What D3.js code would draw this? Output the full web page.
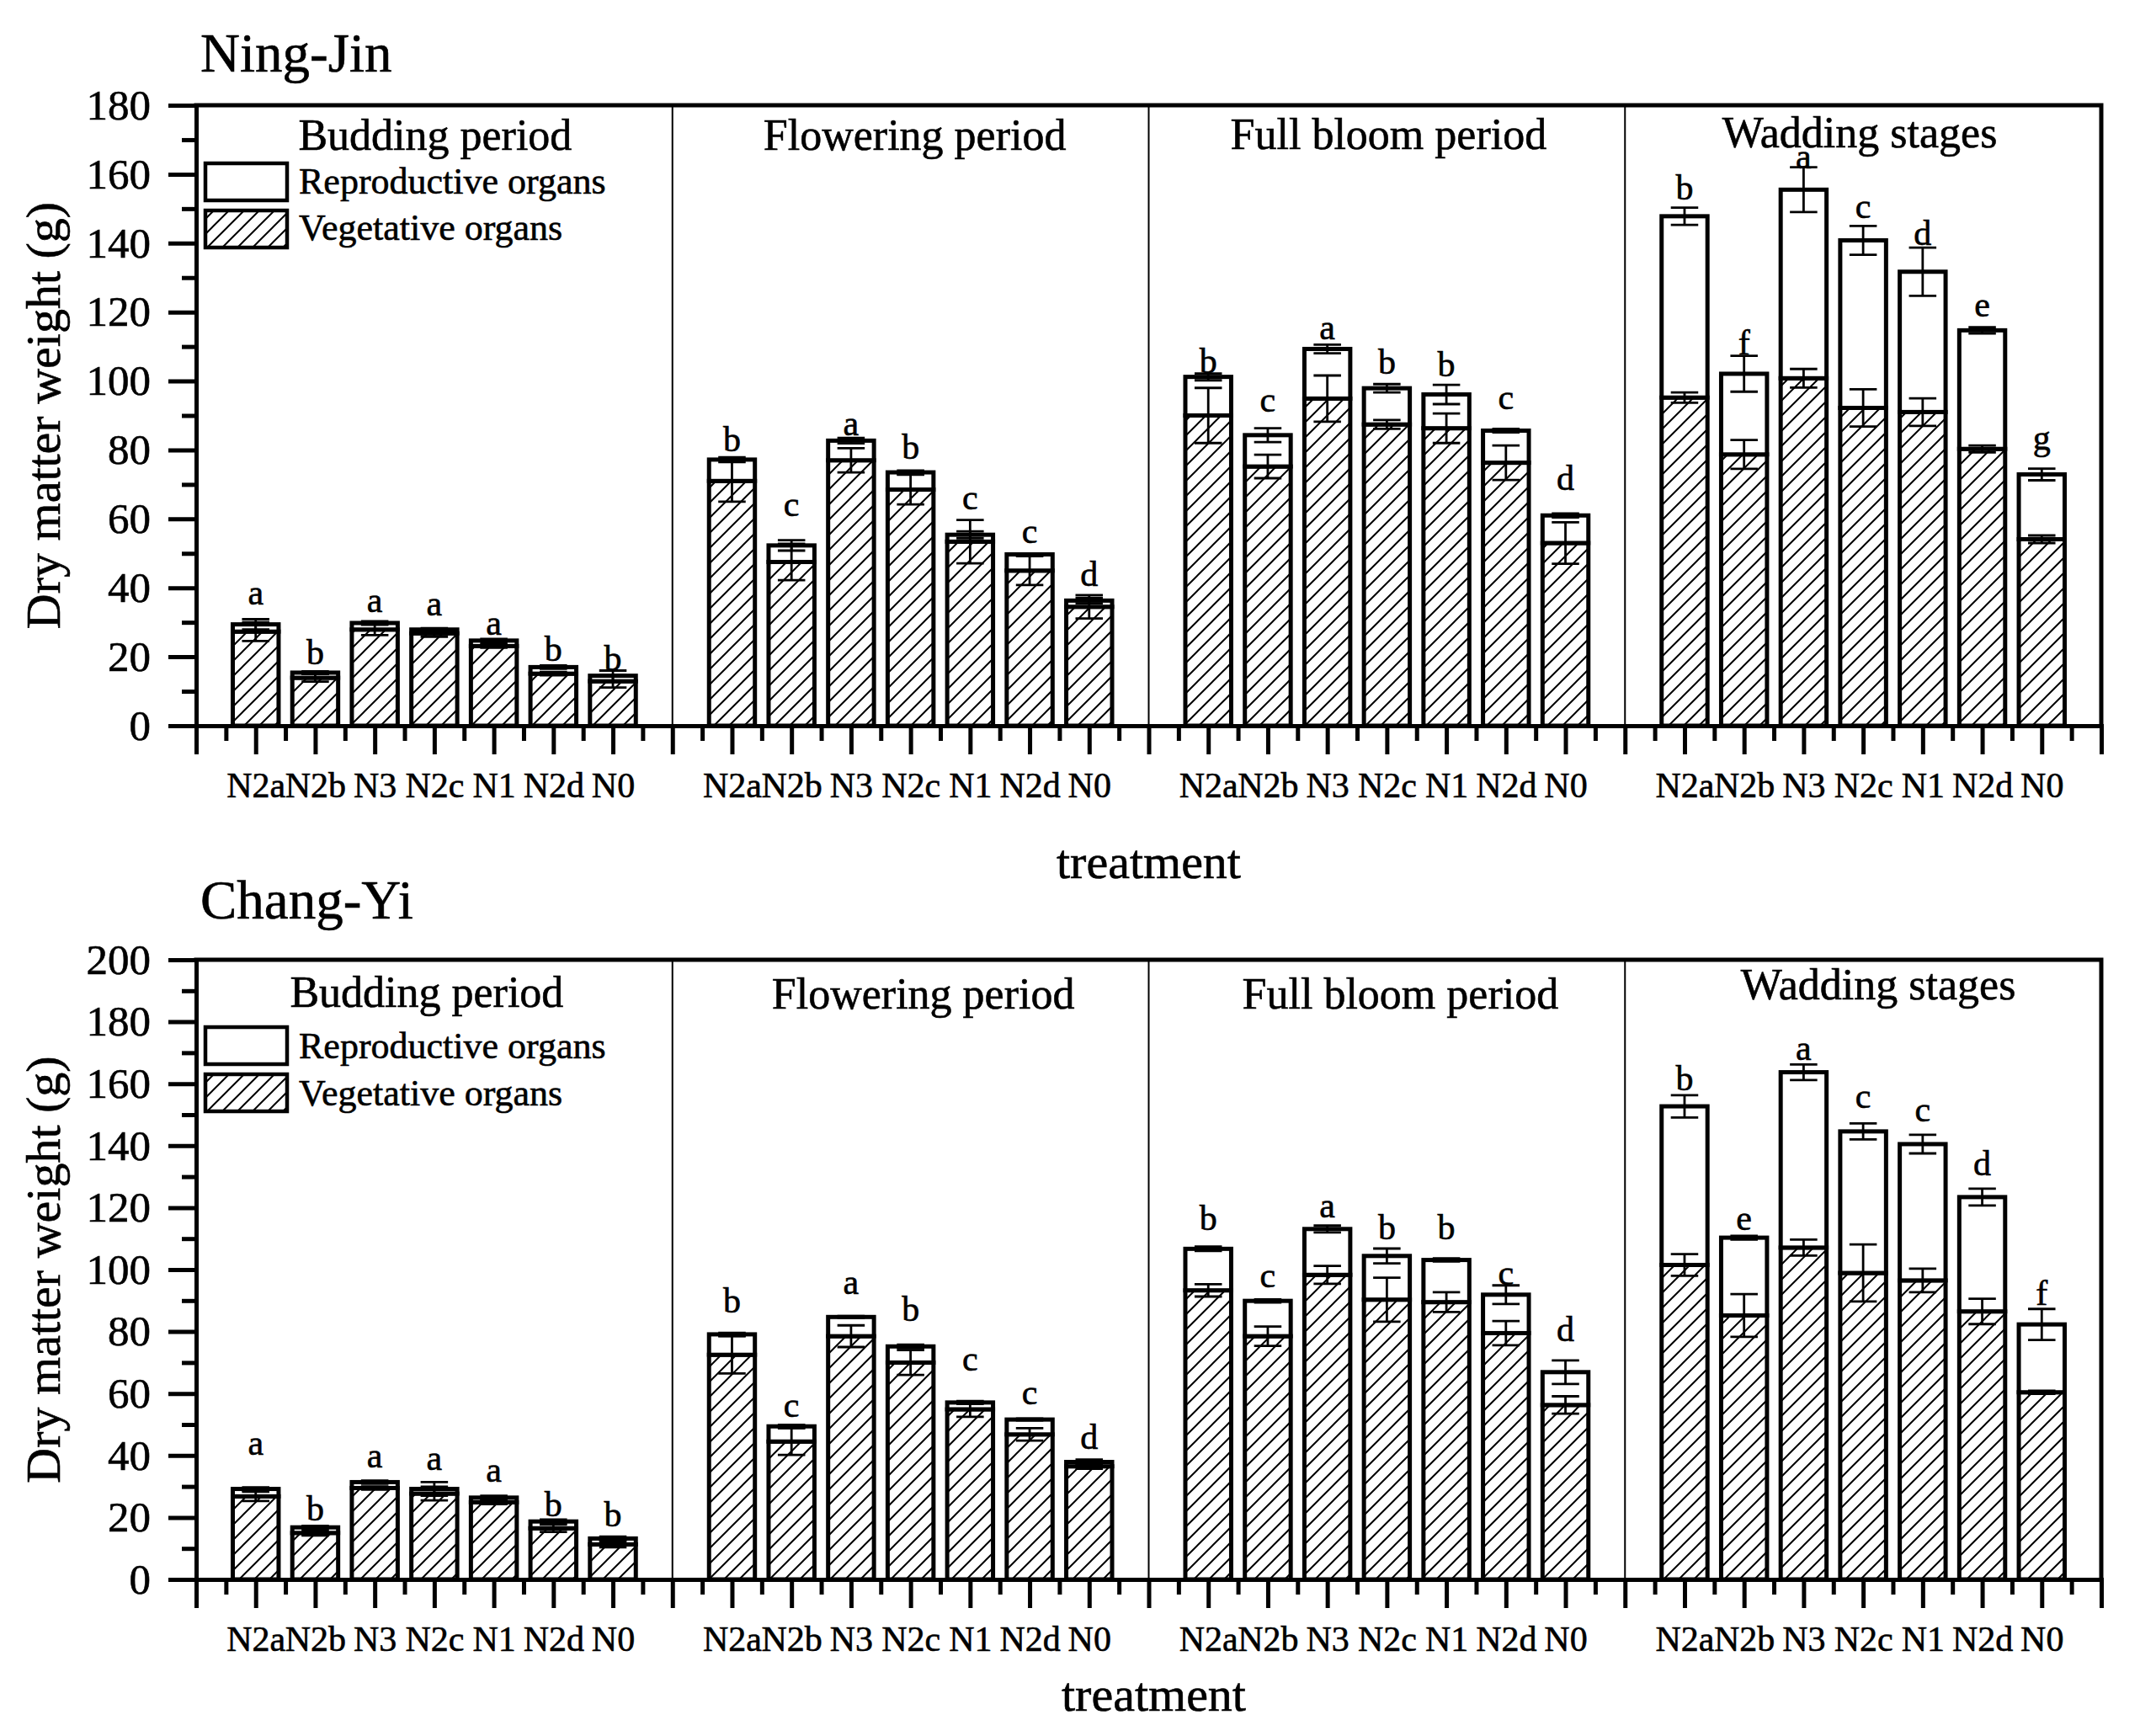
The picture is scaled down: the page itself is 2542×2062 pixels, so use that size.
<!DOCTYPE html>
<html>
<head>
<meta charset="utf-8">
<script src="https://cdn.jsdelivr.net/npm/d3@7/dist/d3.min.js"></script>
<style>
  html, body { margin: 0; padding: 0; background: #fff; }
  svg { display: block; }
  text { font-family: "Liberation Serif", "Times New Roman", serif; fill: #000; stroke: #000; stroke-width: 0.6px; }
</style>
</head>
<body>
<svg id="chart" width="2542" height="2062"></svg>
<script>
// ---------------- DATA ----------------
const treatments = ["N2a", "N2b", "N3", "N2c", "N1", "N2d", "N0"];
const periods = ["Budding period", "Flowering period", "Full bloom period", "Wadding stages"];
const seriesNames = ["Reproductive organs", "Vegetative organs"];

// Ning-Jin: vegetative organ dry weight (g), per period, per treatment
const njVeg = [
  [27.3, 13.9, 27.9, 26.8, 23.1, 15.1, 12.9],
  [71.0, 47.5, 77.0, 68.5, 53.4, 45.0, 34.5],
  [90.0, 75.2, 94.9, 87.4, 86.3, 76.3, 53.0],
  [95.2, 78.7, 100.8, 92.2, 91.0, 80.3, 54.1]
];
// Ning-Jin: total (vegetative + reproductive) dry weight
const njTotal = [
  [29.4, 15.4, 29.8, 27.9, 24.7, 17.0, 14.5],
  [77.2, 52.3, 82.7, 73.5, 55.4, 49.7, 36.3],
  [101.2, 84.3, 109.3, 97.9, 96.1, 85.6, 61.0],
  [147.8, 102.1, 155.5, 140.8, 131.7, 114.7, 72.9]
];
const njVegErr = [
  [2.7, 1.1, 1.6, 1.0, 0.5, 0.5, 1.8],
  [6.0, 5.3, 3.5, 4.3, 6.3, 4.2, 3.4],
  [8.0, 3.4, 6.7, 1.3, 4.3, 5.0, 6.0],
  [1.5, 4.2, 2.7, 5.4, 4.0, 1.0, 1.1]
];
const njTotErr = [
  [1.5, 0.4, 0.5, 0.4, 0.5, 0.5, 1.5],
  [0.7, 1.5, 0.8, 0.5, 1.0, 0.3, 0.8],
  [1.0, 2.0, 1.25, 1.2, 2.8, 0.5, 0.6],
  [2.5, 5.2, 6.5, 4.2, 7.0, 0.9, 1.7]
];
const njLetters = [
  ["a", "b", "a", "a", "a", "b", "b"],
  ["b", "c", "a", "b", "c", "c", "d"],
  ["b", "c", "a", "b", "b", "c", "d"],
  ["b", "f", "a", "c", "d", "e", "g"]
];
// value level (g) at which each significance letter sits
const njLetterY = [
  [35.2, 17.9, 32.9, 31.9, 26.3, 18.8, 16.0],
  [79.5, 60.7, 84.2, 77.4, 62.8, 53.0, 40.5],
  [102.3, 91.0, 112.2, 102.2, 101.3, 91.8, 68.5],
  [152.6, 107.7, 161.7, 147.2, 139.5, 118.8, 80.1]
];

// Chang-Yi
const cyVeg = [
  [26.8, 15.0, 29.5, 27.7, 24.9, 16.5, 11.3],
  [72.5, 44.5, 78.5, 70.0, 54.9, 46.8, 36.5],
  [93.3, 78.5, 98.3, 90.3, 89.5, 79.5, 56.3],
  [101.5, 85.2, 107.1, 98.9, 96.5, 86.5, 60.4]
];
const cyTotal = [
  [29.2, 16.8, 31.4, 29.2, 26.4, 18.7, 13.2],
  [79.1, 49.4, 84.7, 75.2, 57.1, 51.6, 37.9],
  [106.7, 89.9, 113.1, 104.4, 103.1, 91.9, 66.9],
  [152.7, 110.3, 163.7, 144.6, 140.5, 123.4, 82.3]
];
const cyVegErr = [
  [1.5, 0.8, 0.5, 2.2, 0.6, 1.2, 0.9],
  [6.0, 4.3, 3.5, 4.0, 2.4, 2.0, 0.8],
  [2.0, 3.1, 2.9, 7.1, 3.2, 3.9, 2.8],
  [3.5, 6.9, 2.6, 9.2, 3.8, 4.1, 0.5]
];
const cyTotErr = [
  [0.5, 0.5, 0.5, 2.2, 0.6, 0.6, 0.6],
  [0.5, 0.5, 0.3, 0.6, 0.5, 0.3, 0.8],
  [0.7, 0.5, 1.1, 2.4, 0.5, 3.0, 3.8],
  [3.6, 0.6, 2.5, 2.6, 3.0, 2.7, 5.0]
];
const cyLetters = [
  ["a", "b", "a", "a", "a", "b", "b"],
  ["b", "c", "a", "b", "c", "c", "d"],
  ["b", "c", "a", "b", "b", "c", "d"],
  ["b", "e", "a", "c", "c", "d", "f"]
];
const cyLetterY = [
  [40.2, 19.0, 36.1, 35.2, 31.5, 20.5, 17.2],
  [86.1, 52.5, 92.0, 83.3, 67.3, 56.4, 42.1],
  [112.9, 94.2, 116.8, 109.9, 109.9, 95.1, 77.0],
  [157.8, 112.7, 167.6, 152.2, 147.9, 130.4, 88.5]
];

const yTicksNJ = [0, 20, 40, 60, 80, 100, 120, 140, 160, 180];
const yTicksCY = [0, 20, 40, 60, 80, 100, 120, 140, 160, 180, 200];

// ---------------- DRAWING ----------------
const svg = d3.select("#chart");
svg.append("rect").attr("width", 2542).attr("height", 2062).attr("fill", "#fff");

const defs = svg.append("defs");
const pat = defs.append("pattern")
  .attr("id", "hatch").attr("patternUnits", "userSpaceOnUse")
  .attr("width", 18).attr("height", 18);
pat.append("rect").attr("width", 18).attr("height", 18).attr("fill", "#fff");
pat.append("path")
  .attr("d", "M0,18 L18,0 M-4.5,4.5 L4.5,-4.5 M13.5,22.5 L22.5,13.5")
  .attr("stroke", "#000").attr("stroke-width", 2);

const X0 = 233, X1 = 2496;
const slotsPerPeriod = 8;
const x = d3.scaleLinear().domain([0, periods.length * slotsPerPeriod]).range([X0, X1]);
const barW = x(0.77) - x(0);
const capW = x(0.46) - x(0);

function drawChart(cfg) {
  const g = svg.append("g");
  const y = d3.scaleLinear().domain([0, cfg.yMax]).range([cfg.y0, cfg.y1]);

  const recs = [];
  periods.forEach((p, pi) => {
    treatments.forEach((t, ti) => {
      recs.push({
        pos: pi * slotsPerPeriod + ti + 1,
        veg: cfg.veg[pi][ti], total: cfg.total[pi][ti],
        vegErr: cfg.vegErr[pi][ti], totErr: cfg.totErr[pi][ti],
        letter: cfg.letters[pi][ti], letterY: cfg.letterY[pi][ti]
      });
    });
  });

  // vegetative (hatched)
  g.selectAll(".veg").data(recs).join("rect")
    .attr("x", d => x(d.pos) - barW / 2).attr("width", barW)
    .attr("y", d => y(d.veg)).attr("height", d => y(0) - y(d.veg))
    .attr("fill", "url(#hatch)").attr("stroke", "#000").attr("stroke-width", 5);
  // reproductive (white) stacked
  g.selectAll(".rep").data(recs).join("rect")
    .attr("x", d => x(d.pos) - barW / 2).attr("width", barW)
    .attr("y", d => y(d.total)).attr("height", d => y(d.veg) - y(d.total))
    .attr("fill", "#fff").attr("stroke", "#000").attr("stroke-width", 5);

  // error bars
  const errs = [];
  recs.forEach(d => {
    errs.push({ pos: d.pos, v: d.veg, e: d.vegErr });
    errs.push({ pos: d.pos, v: d.total, e: d.totErr });
  });
  const eg = g.selectAll(".err").data(errs).join("g").attr("class", "err")
    .attr("stroke", "#000").attr("stroke-width", 2.8).attr("fill", "none");
  eg.append("line")
    .attr("x1", d => x(d.pos)).attr("x2", d => x(d.pos))
    .attr("y1", d => y(d.v + d.e)).attr("y2", d => y(d.v - d.e));
  eg.append("line")
    .attr("x1", d => x(d.pos) - capW / 2).attr("x2", d => x(d.pos) + capW / 2)
    .attr("y1", d => y(d.v + d.e)).attr("y2", d => y(d.v + d.e));
  eg.append("line")
    .attr("x1", d => x(d.pos) - capW / 2).attr("x2", d => x(d.pos) + capW / 2)
    .attr("y1", d => y(d.v - d.e)).attr("y2", d => y(d.v - d.e));

  // letters
  g.selectAll(".letter").data(recs).join("text")
    .attr("x", d => x(d.pos)).attr("y", d => y(d.letterY))
    .attr("text-anchor", "middle").attr("font-size", 42)
    .text(d => d.letter);

  // dividers
  for (let k = 1; k < periods.length; k++) {
    g.append("line").attr("x1", x(k * slotsPerPeriod)).attr("x2", x(k * slotsPerPeriod))
      .attr("y1", y(cfg.yMax)).attr("y2", y(0))
      .attr("stroke", "#000").attr("stroke-width", 2);
  }
  // frame top/right
  g.append("path")
    .attr("d", `M${X0},${y(cfg.yMax)}H${X1}V${y(0)}`)
    .attr("fill", "none").attr("stroke", "#000").attr("stroke-width", 5)
    .attr("stroke-linecap", "square");

  // y axis major
  const yAx = g.append("g").attr("transform", `translate(${X0},0)`)
    .call(d3.axisLeft(y).tickValues(cfg.yTicks).tickSize(33).tickPadding(21).tickSizeOuter(0));
  // y minor
  const minorY = d3.range(10, cfg.yMax, 20);
  g.append("g").attr("transform", `translate(${X0},0)`)
    .call(d3.axisLeft(y).tickValues(minorY).tickSize(17).tickFormat("").tickSizeOuter(0))
    .select(".domain").remove();
  // x axis major
  const xMajor = d3.range(0, periods.length * slotsPerPeriod + 1);
  const xAx = g.append("g").attr("transform", `translate(0,${y(0)})`)
    .call(d3.axisBottom(x).tickValues(xMajor).tickSize(34).tickSizeOuter(0)
      .tickFormat(d => d % slotsPerPeriod === 0 ? "" : treatments[(d % slotsPerPeriod) - 1]));
  const xMinor = d3.range(0.5, periods.length * slotsPerPeriod, 1);
  g.append("g").attr("transform", `translate(0,${y(0)})`)
    .call(d3.axisBottom(x).tickValues(xMinor).tickSize(18).tickFormat("").tickSizeOuter(0))
    .select(".domain").remove();

  g.selectAll(".tick line").attr("stroke", "#000").attr("stroke-width", 5);
  g.selectAll(".domain").attr("stroke", "#000").attr("stroke-width", 5).attr("stroke-linecap", "square");
  yAx.selectAll("text").attr("font-size", 51).attr("font-family", "Liberation Serif").attr("fill", "#000");
  xAx.selectAll("text").attr("font-size", 42).attr("font-family", "Liberation Serif").attr("fill", "#000")
    .attr("dy", null).attr("y", 85);

  // section titles
  periods.forEach((p, pi) => {
    g.append("text")
      .attr("x", x(pi * slotsPerPeriod + slotsPerPeriod / 2) + cfg.secDx[pi])
      .attr("y", cfg.secY[pi]).attr("text-anchor", "middle").attr("font-size", 52)
      .text(p);
  });

  // legend
  const lx = 244, lw = 97;
  seriesNames.forEach((s, si) => {
    g.append("rect").attr("x", lx).attr("y", cfg.legY[si]).attr("width", lw).attr("height", 44)
      .attr("fill", si === 0 ? "#fff" : "url(#hatch)").attr("stroke", "#000").attr("stroke-width", 4.5);
    g.append("text").attr("x", 355).attr("y", cfg.legTextY[si]).attr("font-size", 44).text(s);
  });

  // chart title
  g.append("text").attr("x", 238).attr("y", cfg.titleY).attr("font-size", 65).text(cfg.title);
  // axis titles
  g.append("text")
    .attr("transform", `translate(71,${(y(0) + y(cfg.yMax)) / 2}) rotate(-90)`)
    .attr("text-anchor", "middle").attr("font-size", 58)
    .text("Dry matter weight (g)");
  g.append("text").attr("x", (X0 + X1) / 2 + cfg.xLabDx).attr("y", cfg.xLabY)
    .attr("text-anchor", "middle").attr("font-size", 58).text("treatment");
}

drawChart({
  title: "Ning-Jin", titleY: 85, yMax: 180, y0: 862, y1: 125, yTicks: yTicksNJ,
  veg: njVeg, total: njTotal, vegErr: njVegErr, totErr: njTotErr,
  letters: njLetters, letterY: njLetterY,
  secY: [178, 178, 177, 175], secDx: [1, 5, 2, -4],
  legY: [194, 250], legTextY: [230, 285], xLabY: 1043, xLabDx: 0
});
drawChart({
  title: "Chang-Yi", titleY: 1091, yMax: 200, y0: 1876, y1: 1140, yTicks: yTicksCY,
  veg: cyVeg, total: cyTotal, vegErr: cyVegErr, totErr: cyTotErr,
  letters: cyLetters, letterY: cyLetterY,
  secY: [1196, 1198, 1198, 1187], secDx: [-9, 15, 16, 18],
  legY: [1220, 1276], legTextY: [1257, 1313], xLabY: 2032, xLabDx: 6
});
</script>
</body>
</html>
